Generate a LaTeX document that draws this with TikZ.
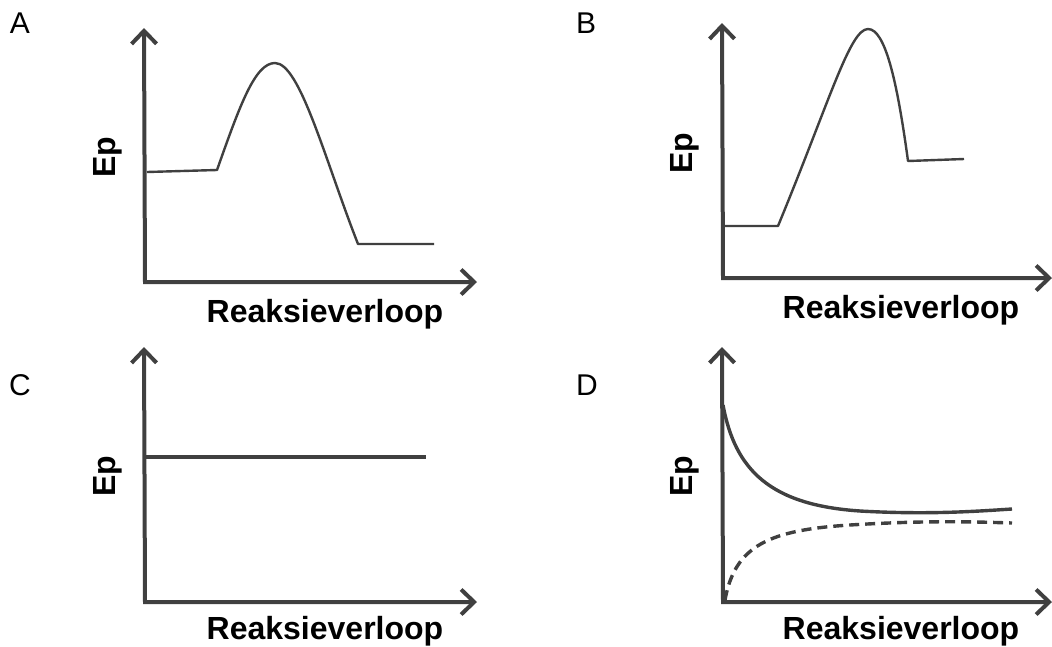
\documentclass[tikz,border=0pt]{standalone}
\usepackage{fontspec}
\setmainfont{Liberation Sans}
\usetikzlibrary{arrows.meta}

\definecolor{inkgray}{HTML}{404040}

\tikzset{
  axis/.style={line width=4pt, draw=inkgray, line join=miter,
    {Straight Barb[length=13pt, width=25pt]}-{Straight Barb[length=13pt, width=25pt]}},
  curve/.style={line width=2.4pt, draw=inkgray, line join=round},
  panel/.style={font=\fontsize{30}{32}\selectfont},
  ylab/.style={font=\fontsize{32}{34}\selectfont\bfseries, rotate=90, anchor=base},
  xlab/.style={font=\fontsize{32}{34}\selectfont\bfseries, anchor=base}
}

\begin{document}
\begin{tikzpicture}[x=1pt, y=-1pt]

  \useasboundingbox (0,0) rectangle (1052,646);

  % -- Panel A --
  \node[panel] (labA) at (20,23) {A};
  \draw[axis] (144,28) -- (145,282) -- (477,282);
  \node[ylab] (epA) at (115,157) {Ep};
  \node[xlab] (rvA) at (325,322) {Reaksieverloop};
  \draw[curve] (147,172) -- (217,170)
    .. controls (240,105) and (255,63) .. (275,63)
    .. controls (300,63) and (325,160) .. (358,244) -- (434,244);

  % -- Panel B --
  \node[panel] (labB) at (586,23) {B};
  \draw[axis] (722,23) -- (723,278) -- (1052,278);
  \node[ylab] (epB) at (692,153) {Ep};
  \node[xlab] (rvB) at (901,318) {Reaksieverloop};
  \draw[curve] (724,226) -- (778,226)
    .. controls (830,100) and (850,29) .. (868,29)
    .. controls (885,29) and (897,80) .. (908,161) -- (964,159);

  % -- Panel C --
  \node[panel] (labC) at (20,385) {C};
  \draw[axis] (144,347) -- (145,602) -- (477,602);
  \node[ylab] (epC) at (115,476) {Ep};
  \node[xlab] (rvC) at (325,639) {Reaksieverloop};
  \draw[curve, line width=3.2pt] (146,457) -- (426,457);

  % -- Panel D --
  \node[panel] (labD) at (587,385) {D};
  \draw[axis] (722,347) -- (723,602) -- (1052,602);
  \node[ylab] (epD) at (692,476) {Ep};
  \node[xlab] (rvD) at (901,639) {Reaksieverloop};
  \draw[curve, line width=3.4pt] (723,405)
    .. controls (735,470) and (770,505) .. (860,511)
    .. controls (930,515) and (980,511) .. (1012,509);
  \draw[curve, line width=3.4pt, dash pattern=on 10pt off 6pt] (725,600)
    .. controls (735,545) and (770,530) .. (850,525)
    .. controls (930,520) and (980,522) .. (1012,523);

\end{tikzpicture}
\end{document}
